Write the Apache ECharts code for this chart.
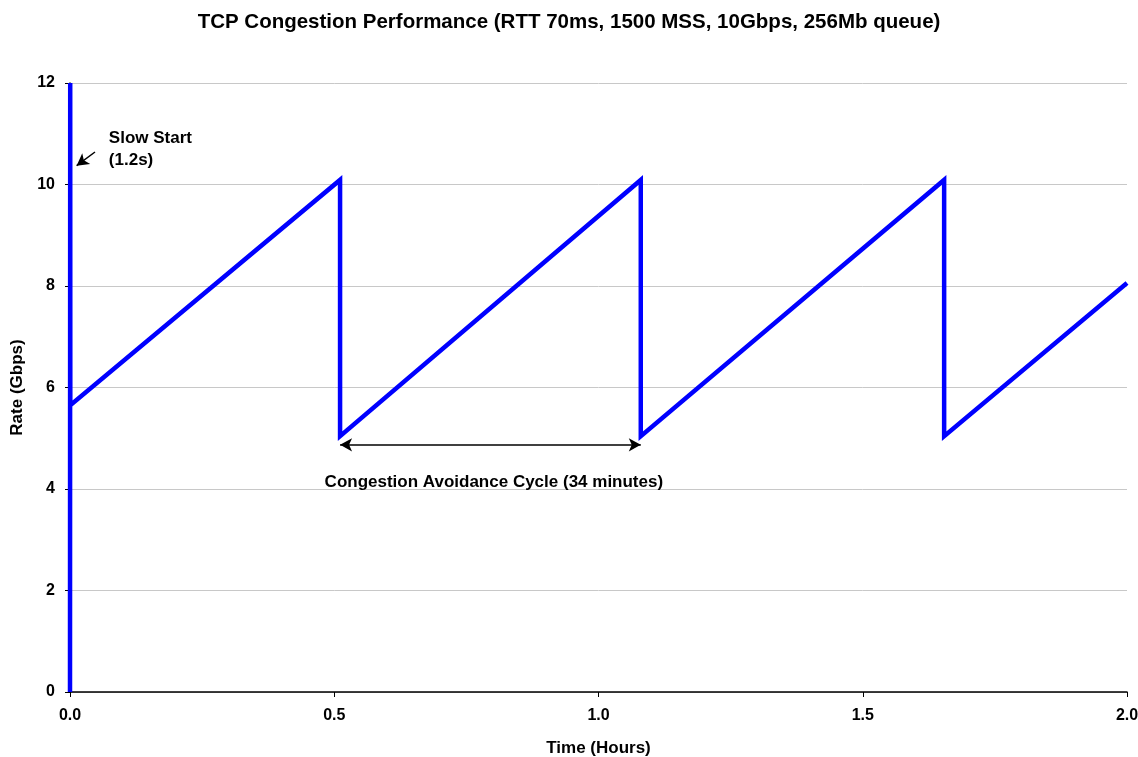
<!DOCTYPE html>
<html>
<head>
<meta charset="utf-8">
<script src="https://cdn.jsdelivr.net/npm/echarts@6/dist/echarts.min.js"></script>
<style>html,body{margin:0;padding:0;background:#fff}#c{width:1138px;height:757px}</style>
</head>
<body>
<div id="c"></div>
<script>
const timeHours = [0.0, 0.0004, 0.0006, 0.511, 0.511, 1.080, 1.080, 1.654, 1.654, 2.0];
const rateGbps  = [0.0, 12.0,   5.65,   10.09, 5.04,  10.09, 5.04,  10.09, 5.04,  8.06];
const xTicks = [0.0, 0.5, 1.0, 1.5, 2.0];
const yTicks = [0, 2, 4, 6, 8, 10, 12];
const cycleStart = 0.511, cycleEnd = 1.080, cycleRate = 4.87;
const titleText = 'TCP Congestion Performance (RTT 70ms, 1500 MSS, 10Gbps, 256Mb queue)';

const font = 'Liberation Sans, Arial, sans-serif';
const chart = echarts.init(document.getElementById('c'));
chart.setOption({
  animation: false,
  title: {text: titleText, left: 'center', top: 7,
    textStyle: {fontFamily: font, fontSize: 20.5, fontWeight: 'bold', color: '#000'}},
  grid: {left: 70, right: 11, top: 83, bottom: 65, containLabel: false, outerBoundsMode: 'none'},
  xAxis: {type: 'value', min: 0, max: 2, interval: 0.5,
    name: 'Time (Hours)', nameLocation: 'middle', nameGap: 48,
    nameTextStyle: {fontFamily: font, fontSize: 17, fontWeight: 'bold', color: '#000'},
    axisLine: {lineStyle: {color: '#000', width: 1.5}},
    axisTick: {show: true, length: 5, lineStyle: {color: '#000'}},
    splitLine: {show: false},
    axisLabel: {fontFamily: font, fontSize: 16, fontWeight: 'bold', color: '#000', margin: 16,
      formatter: v => v.toFixed(1)}},
  yAxis: {type: 'value', min: 0, max: 12, interval: 2,
    name: 'Rate (Gbps)', nameLocation: 'middle', nameGap: 42,
    nameTextStyle: {fontFamily: font, fontSize: 17, fontWeight: 'bold', color: '#000'},
    axisLine: {show: true, lineStyle: {color: '#000', width: 1.5}},
    axisTick: {show: true, length: 5, lineStyle: {color: '#000'}},
    splitLine: {show: true, lineStyle: {color: '#c8c8c8', width: 1}},
    axisLabel: {fontFamily: font, fontSize: 16, fontWeight: 'bold', color: '#000', margin: 15}},
  series: [{
    type: 'line', data: timeHours.map((t, i) => [t, rateGbps[i]]),
    showSymbol: false, symbol: 'none', z: 5,
    lineStyle: {color: '#0000ff', width: 4.5, join: 'miter'},
    markLine: {
      silent: true, animation: false,
      label: {show: false},
      data: [
        [{coord: [cycleStart, cycleRate], symbol: 'arrow'}, {coord: [cycleEnd, cycleRate], symbol: 'arrow'}],
        [{coord: [0.0473, 10.64], symbol: 'none'}, {coord: [0.0125, 10.37], symbol: 'arrow'}]
      ],
      symbolSize: [10, 12],
      lineStyle: {color: '#000', width: 1.5, type: 'solid'}
    },
    markPoint: {
      silent: true, symbol: 'rect', symbolSize: 0,
      data: [
        {coord: [0.802, 4.14],
          label: {show: true, formatter: 'Congestion Avoidance Cycle (34 minutes)', position: 'inside',
            fontFamily: font, fontSize: 17, fontWeight: 'bold', color: '#000'}},
        {coord: [0.0735, 10.70],
          label: {show: true, formatter: 'Slow Start\n(1.2s)', position: 'right', distance: 0, align: 'left',
            lineHeight: 22, fontFamily: font, fontSize: 17, fontWeight: 'bold', color: '#000'}}
      ]
    }
  }]
});
</script>
</body>
</html>
